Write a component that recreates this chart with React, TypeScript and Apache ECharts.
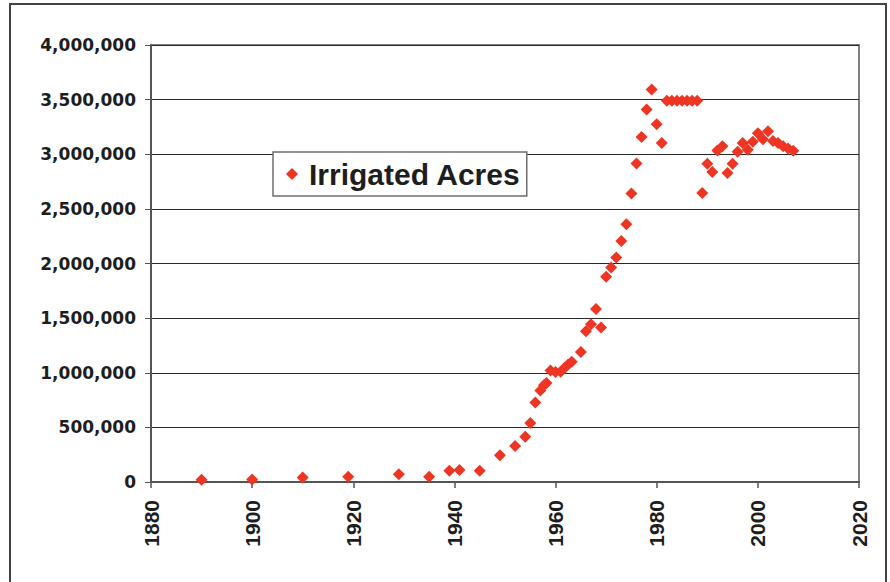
import React, { useEffect, useRef } from "react";
import * as echarts from "echarts";

const seriesName = "Irrigated Acres";

const years: number[] = [
  1890, 1900, 1910, 1919, 1929, 1935, 1939, 1941, 1945, 1949,
  1952, 1954, 1955, 1956, 1957, 1957.7, 1958.2, 1959, 1960, 1961,
  1961.8, 1962.5, 1963.2, 1965, 1966, 1967, 1968, 1969, 1970, 1971,
  1972, 1973, 1974, 1975, 1976, 1977, 1978, 1979, 1980, 1981,
  1982, 1983, 1984, 1985, 1986, 1987, 1988, 1989, 1990, 1991,
  1992, 1993, 1994, 1995, 1996, 1997, 1998, 1999, 2000, 2001,
  2002, 2003, 2004, 2005, 2006, 2007,
];

const acres: number[] = [
  20000, 22000, 42000, 48000, 70000, 48000, 103000, 110000, 103000, 244000,
  329000, 415000, 540000, 728000, 838000, 885000, 906000, 1020000, 1007000, 1009000,
  1045000, 1075000, 1100000, 1190000, 1381000, 1445000, 1583000, 1415000, 1878000, 1964000,
  2055000, 2206000, 2360000, 2641000, 2916000, 3159000, 3410000, 3593000, 3275000, 3104000,
  3489000, 3489000, 3489000, 3489000, 3489000, 3489000, 3489000, 2645000, 2912000, 2838000,
  3035000, 3074000, 2828000, 2914000, 3022000, 3104000, 3041000, 3115000, 3192000, 3137000,
  3211000, 3122000, 3104000, 3074000, 3053000, 3031000,
];

const xMin = 1880;
const xMax = 2020;
const xStep = 20;
const yMin = 0;
const yMax = 4000000;
const yStep = 500000;

export default function App() {
  const ref = useRef<HTMLDivElement>(null);

  useEffect(() => {
    if (!ref.current) return;
    const chart = echarts.init(ref.current, null, { renderer: "svg" });
    const data = years.map((y, i) => [y, acres[i]]);
    chart.setOption({
      animation: false,
      backgroundColor: "#ffffff",
      grid: {
        left: 151,
        right: 31,
        top: 45,
        bottom: 100,
        show: true,
        borderColor: "#808080",
        borderWidth: 2,
        outerBoundsMode: "none",
      },
      legend: {
        data: [seriesName],
        left: 273,
        top: 152,
        orient: "horizontal",
        icon: "diamond",
        itemWidth: 12,
        itemHeight: 12,
        padding: [6, 6, 6, 13],
        backgroundColor: "#ffffff",
        borderColor: "#6e6e6e",
        borderWidth: 1.5,
        borderRadius: 0,
        textStyle: {
          fontFamily: "Liberation Sans",
          fontWeight: "bold",
          fontSize: 30,
          color: "#1e1e1e",
          lineHeight: 32,
          padding: [0, 0, 0, 6],
        },
      },
      xAxis: {
        type: "value",
        min: xMin,
        max: xMax,
        interval: xStep,
        axisLine: { show: true, onZero: false, lineStyle: { color: "#555555", width: 2 } },
        axisTick: { show: true, length: 6, lineStyle: { color: "#555555", width: 1.5 } },
        splitLine: { show: false },
        axisLabel: {
          rotate: 90,
          margin: 18,
          fontFamily: "Liberation Sans",
          fontWeight: "bold",
          fontSize: 21,
          color: "#1e1e1e",
          formatter: (v: number) => String(v),
        },
      },
      yAxis: {
        type: "value",
        min: yMin,
        max: yMax,
        interval: yStep,
        axisLine: { show: true, lineStyle: { color: "#555555", width: 2 } },
        axisTick: { show: true, length: 6, lineStyle: { color: "#555555", width: 1 } },
        splitLine: { show: true, lineStyle: { color: "#2a2a2a", width: 1 } },
        axisLabel: {
          margin: 15,
          fontFamily: "DejaVu Sans",
          fontWeight: "bold",
          fontSize: 17,
          color: "#1e1e1e",
          formatter: (v: number) => v.toLocaleString("en-US"),
        },
      },
      series: [
        {
          name: seriesName,
          type: "scatter",
          symbol: "diamond",
          symbolSize: 12,
          itemStyle: { color: "#ee3524", opacity: 1 },
          data,
        },
      ],
      graphic: [
        {
          type: "rect",
          shape: { x: 10, y: 4, width: 876, height: 620 },
          style: { fill: "none", stroke: "#444444", lineWidth: 2 },
          silent: true,
          z: 100,
        },
      ],
    });
    return () => chart.dispose();
  }, []);

  return (
    <div
      ref={ref}
      style={{ position: "fixed", left: 0, top: 0, width: 890, height: 582 }}
    />
  );
}
